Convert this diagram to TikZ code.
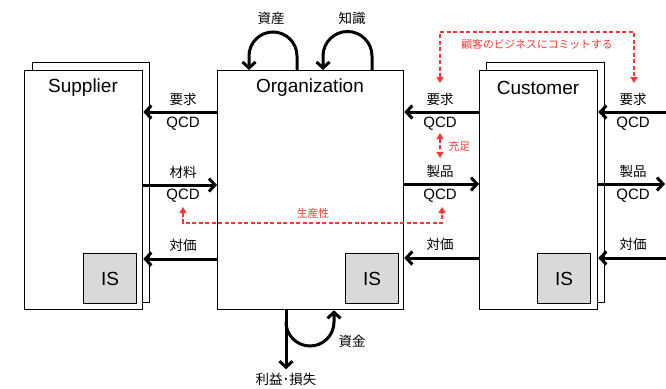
\documentclass[tikz,border=0pt]{standalone}
\usepackage{fontspec}
\setmainfont{Liberation Sans}
\newfontfamily\jp{Noto Sans CJK JP}
\usetikzlibrary{arrows.meta}
\definecolor{myred}{RGB}{245,55,55}
\definecolor{isgray}{RGB}{217,217,217}
\begin{document}
\begin{tikzpicture}[x=1pt,y=-1pt,
  box/.style={draw,line width=1.3pt,fill=white,anchor=north west,inner sep=0pt},
  isbox/.style={draw,line width=1.3pt,fill=isgray,anchor=north west,inner sep=0pt,minimum width=53pt,minimum height=50pt,font=\fontsize{19}{22}\selectfont},
  title/.style={font=\fontsize{19}{22}\selectfont},
  lab/.style={font=\fontsize{15}{18}\selectfont},
  jlab/.style={font=\jp\fontsize{13.5}{16}\selectfont},
  rlab/.style={font=\jp\fontsize{10.8}{13}\selectfont,text=myred},
  arr/.style={line width=3pt,-{Straight Barb[length=6pt,width=13pt]}},
  redarr/.style={draw=myred,line width=1.2pt,dash pattern=on 4pt off 2.5pt,{Triangle[length=6pt,width=7pt,fill=myred]}-{Triangle[length=6pt,width=7pt,fill=myred]}}]
\useasboundingbox (0,0) rectangle (666,388);
% boxes
\node[box,minimum width=117pt,minimum height=240pt] (supback) at (32,62) {};
\node[box,minimum width=118pt,minimum height=239pt] (sup) at (24,70) {};
\node[box,minimum width=186pt,minimum height=239pt] (org) at (217,70) {};
\node[box,minimum width=118pt,minimum height=240pt] (cusback) at (486,62) {};
\node[box,minimum width=118pt,minimum height=239pt] (cus) at (479,70) {};
\node[title] (supt) at (83,88) {Supplier};
\node[title] (orgt) at (310,88) {Organization};
\node[title] (cust) at (538,88) {Customer};
\node[isbox] (supis) at (83,253) {IS};
\node[isbox] (orgis) at (345,253) {IS};
\node[isbox] (cusis) at (537,253) {IS};
% left arrows
\draw[arr] (org.west |- 0,112) -- (sup.east |- 0,112);
\draw[arr] (sup.east |- 0,185) -- (org.west |- 0,185);
\draw[arr] (org.west |- 0,259) -- (sup.east |- 0,259);
% middle arrows
\draw[arr] (cus.west |- 0,112) -- (org.east |- 0,112);
\draw[arr] (org.east |- 0,184) -- (cus.west |- 0,184);
\draw[arr] (cus.west |- 0,258) -- (org.east |- 0,258);
% right arrows
\coordinate (rt1) at (668,112);
\coordinate (rt2) at (665,184);
\coordinate (rt3) at (668,258);
\draw[arr] (rt1) -- (cus.east |- rt1);
\draw[arr] (cus.east |- rt2) -- (rt2);
\draw[arr] (rt3) -- (cus.east |- rt3);
% labels
\node[jlab] (l1) at (183,99) {要求};
\node[lab] (l2) at (183,124) {QCD};
\node[jlab] (l3) at (183,172) {材料};
\node[lab] (l4) at (183,196) {QCD};
\node[jlab] (l5) at (183,245) {対価};
\node[jlab] (m1) at (440,99) {要求};
\node[lab] (m2) at (440,124) {QCD};
\node[jlab] (m3) at (440,171) {製品};
\node[lab] (m4) at (440,196) {QCD};
\node[jlab] (m5) at (440,244) {対価};
\node[jlab] (r1) at (633,99) {要求};
\node[lab] (r2) at (633,124) {QCD};
\node[jlab] (r3) at (633,171) {製品};
\node[lab] (r4) at (633,196) {QCD};
\node[jlab] (r5) at (633,244) {対価};
% top loops
\node[jlab] (asset) at (271,18) {資産};
\node[jlab] (know) at (352,18) {知識};
\draw[arr] (org.north -| 297,0) -- (297,56) arc[start angle=0,end angle=-180,radius=24] -- (org.north -| 249,0);
\draw[arr] (org.north -| 372,0) -- (372,56) arc[start angle=0,end angle=-180,radius=24.5] -- (org.north -| 323,0);
% bottom
\node[jlab] (fund) at (352,341) {資金};
\node[jlab] (profit) at (286,379) {利益･損失};
\draw[arr] (org.south -| 286,0) -- (profit.north);
\draw[arr] (286,322) arc[start angle=180,end angle=0,radius=24] -- (org.south -| 334,0);
% red dashed
\node[rlab] (commit) at (537,44) {顧客のビジネスにコミットする};
\draw[redarr] (440,83) -- (440,32) -- (634,32) -- (634,83);
\node[rlab,anchor=west] (fill) at (445,146) {充足};
\draw[redarr] (440,133) -- (440,158);
\node[rlab] (prod) at (313,213) {生産性};
\draw[redarr] (183,207) -- (183,223) -- (442,223) -- (442,207);
\end{tikzpicture}
\end{document}
